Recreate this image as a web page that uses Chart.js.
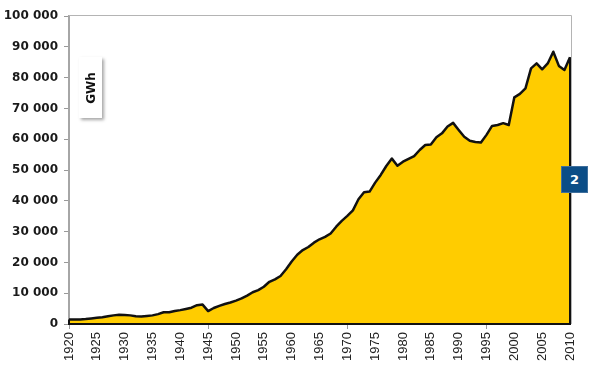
<!DOCTYPE html>
<html lang="nb">
<head>
<meta charset="utf-8">
<title>GWh per year</title>
<script src="https://cdn.jsdelivr.net/npm/chart.js@4/dist/chart.umd.min.js"></script>
<style>
  html, body { margin: 0; padding: 0; background: #fff; }
  #holder { position: relative; width: 600px; height: 375px; }
  #gwh-tag {
    position: absolute; left: 79px; top: 57px; width: 23px; height: 61px;
    background: #fff; box-shadow: 2px 2px 3px rgba(0, 0, 0, 0.35);
    display: flex; align-items: center; justify-content: center;
  }
  #gwh-tag span {
    display: block; transform: rotate(-90deg); white-space: nowrap;
    font: bold 12px "DejaVu Sans", sans-serif; color: #111;
  }
  #num-tag {
    position: absolute; left: 561px; top: 166px; width: 27px; height: 27px;
    background: #0b4d86; color: #fff; border: 1px solid #3f6f9c; box-sizing: border-box;
    font: bold 13px "DejaVu Sans", sans-serif; line-height: 25px; text-align: center;
  }
</style>
</head>
<body>
<div id="holder">
  <canvas id="area" width="600" height="375"></canvas>
  <div id="gwh-tag"><span>GWh</span></div>
  <div id="num-tag">2</div>
</div>
<script>
  var years = [];
  for (var n = 1920; n <= 2010; n++) years.push(String(n));

  // one value per year, GWh
  var values = [
    1500, 1500, 1500, 1600, 1800, 2000, 2200, 2500, 2800, 3000,
    2900, 2800, 2500, 2400, 2600, 2800, 3200, 3800, 3800, 4200,
    4500, 4900, 5300, 6100, 6300, 4200, 5200, 5900, 6500, 7000,
    7600, 8300, 9200, 10300, 11000, 12100, 13700, 14500, 15600, 17800,
    20300, 22500, 24000, 25000, 26400, 27500, 28300, 29400, 31600, 33500,
    35100, 36900, 40500, 42800, 43000, 45900, 48400, 51300, 53700, 51400,
    52700, 53600, 54500, 56500, 58100, 58300, 60600, 61900, 64100, 65300,
    63000, 60800, 59500, 59100, 58900, 61400, 64300, 64600, 65200, 64600,
    73600, 74700, 76500, 83000, 84600, 82700, 84600, 88400, 83800, 82500,
    86600
  ];

  var topValue = 100000;
  var stepValue = 10000;
  var yearGap = 5;

  function thousands(v) {
    return String(v).replace(/\B(?=(\d{3})+(?!\d))/g, ' ');
  }

  function labelled(i) {
    return Number(years[i]) % yearGap === 0;
  }

  var edges = {
    id: 'edges',
    // thin grey frame along the top and right of the plot
    beforeDatasetsDraw: function (chart) {
      var a = chart.chartArea, ctx = chart.ctx;
      ctx.save();
      ctx.strokeStyle = '#b4b4b4';
      ctx.lineWidth = 1;
      ctx.beginPath();
      ctx.moveTo(a.left, a.top - 0.5);
      ctx.lineTo(a.right + 1.5, a.top - 0.5);
      ctx.lineTo(a.right + 1.5, a.bottom);
      ctx.stroke();
      ctx.restore();
    },
    // black outline closing the area down the last year and along the base
    afterDatasetsDraw: function (chart) {
      var pts = chart.getDatasetMeta(0).data;
      if (!pts.length) return;
      var first = pts[0], last = pts[pts.length - 1];
      var base = chart.scales.y.getPixelForValue(0);
      var ctx = chart.ctx;
      ctx.save();
      ctx.strokeStyle = '#111';
      ctx.lineWidth = 2;
      ctx.beginPath();
      ctx.moveTo(last.x, last.y);
      ctx.lineTo(last.x, base);
      ctx.lineTo(first.x, base);
      ctx.lineTo(first.x, first.y);
      ctx.stroke();
      ctx.restore();
    }
  };

  new Chart(document.getElementById('area'), {
    type: 'line',
    data: {
      labels: years,
      datasets: [{
        label: 'GWh',
        data: values,
        borderColor: '#111',
        borderWidth: 2.5,
        borderJoinStyle: 'round',
        backgroundColor: '#ffcc00',
        fill: 'origin',
        pointRadius: 0,
        tension: 0
      }]
    },
    plugins: [edges],
    options: {
      responsive: false,
      animation: false,
      layout: { padding: { top: 16, right: 30, left: 0, bottom: 0 } },
      plugins: { legend: { display: false }, tooltip: { enabled: false } },
      scales: {
        x: {
          afterFit: function (s) { s.height = 51; },
          grid: {
            drawOnChartArea: false,
            tickLength: 5,
            color: function (c) { return labelled(c.index) ? '#999' : 'rgba(0,0,0,0)'; }
          },
          border: { color: '#999', width: 1 },
          ticks: {
            autoSkip: false,
            minRotation: 90,
            maxRotation: 90,
            color: '#222',
            font: { size: 13 },
            callback: function (v, i) { return labelled(i) ? years[i] : null; }
          }
        },
        y: {
          min: 0,
          max: topValue,
          afterFit: function (s) { s.width = 69; },
          grid: { drawOnChartArea: false, tickLength: 5, color: '#999' },
          border: { color: '#a6a6a6', width: 2 },
          ticks: {
            stepSize: stepValue,
            padding: 6,
            color: '#1a1a1a',
            font: { family: 'DejaVu Sans', size: 12, weight: 'bold' },
            callback: function (v) { return thousands(v); }
          }
        }
      }
    }
  });
</script>
</body>
</html>
